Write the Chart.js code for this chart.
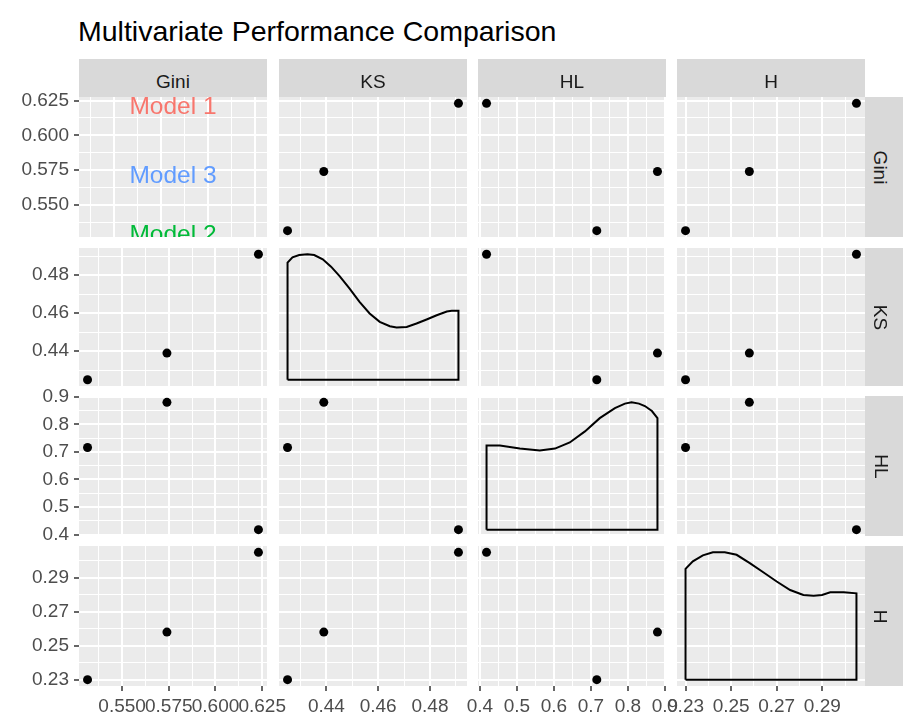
<!DOCTYPE html>
<html lang="en">
  <head>
    <meta charset="UTF-8" />
    <title>Multivariate Performance Comparison</title>
    <script src="https://cdn.jsdelivr.net/npm/chart.js"></script>
    <style>
      body {
        margin: 0;
        background: #fff;
        font-family: "Liberation Sans", Arial, sans-serif;
      }
      #page {
        position: relative;
        width: 904px;
        height: 725px;
        overflow: hidden;
      }
      #page canvas {
        position: absolute;
        left: 0;
        top: 0;
      }
      .title {
        position: absolute;
        left: 78px;
        top: 17px;
        font-size: 28.5px;
        line-height: 1;
        color: #000;
        white-space: nowrap;
      }
      .strip {
        position: absolute;
        background: #d9d9d9;
        color: #1a1a1a;
        font-size: 19px;
        line-height: 1;
        display: flex;
        align-items: center;
        justify-content: center;
      }
      .strip span {
        padding-top: 6px;
      }
      .strip.right span {
        transform: rotate(90deg);
      }
    </style>
  </head>
  <body>
    <div id="page">
      <div class="title">Multivariate Performance Comparison</div>
    </div>
    <script>
      const variables = ['Gini', 'KS', 'HL', 'H'];
      const models = ['Model 1', 'Model 2', 'Model 3'];
      const modelColors = ['#F8766D', '#00BA38', '#619CFF'];

      // metric values per model
      const giniValues = [0.623, 0.5315, 0.574];
      const ksValues = [0.491, 0.425, 0.439];
      const hlValues = [0.418, 0.716, 0.88];
      const hValues = [0.305, 0.23, 0.258];

      // axis breaks
      const giniTicks = [0.55, 0.575, 0.6, 0.625];
      const giniTickLabels = ['0.550', '0.575', '0.600', '0.625'];
      const ksTicks = [0.44, 0.46, 0.48];
      const ksTickLabels = ['0.44', '0.46', '0.48'];
      const hlTicks = [0.4, 0.5, 0.6, 0.7, 0.8, 0.9];
      const hlTickLabels = ['0.4', '0.5', '0.6', '0.7', '0.8', '0.9'];
      const hTicks = [0.23, 0.25, 0.27, 0.29];
      const hTickLabels = ['0.23', '0.25', '0.27', '0.29'];

      // diagonal densities (height relative to the peak)
      const ksDensityX = [0.425, 0.4269, 0.4295, 0.4327, 0.4353, 0.4386, 0.4418, 0.4451, 0.4489, 0.4528, 0.4567,
        0.4606, 0.4645, 0.4671, 0.471, 0.4748, 0.4787, 0.4826, 0.4865, 0.4884, 0.491];
      const ksDensityY = [0.933, 0.976, 0.994, 1.0, 0.994, 0.96, 0.901, 0.826, 0.728, 0.621, 0.528,
        0.461, 0.426, 0.416, 0.421, 0.448, 0.48, 0.514, 0.544, 0.549, 0.549];
      const hlDensityX = [0.418, 0.454, 0.508, 0.562, 0.603, 0.643, 0.684, 0.724, 0.765, 0.792, 0.81, 0.83,
        0.846, 0.865, 0.88];
      const hlDensityY = [0.661, 0.661, 0.637, 0.621, 0.637, 0.685, 0.772, 0.876, 0.955, 0.99, 1.0, 0.99,
        0.971, 0.932, 0.876];
      const hDensityX = [0.23, 0.2332, 0.2376, 0.242, 0.2472, 0.2524, 0.2582, 0.2641, 0.27, 0.2759, 0.2817,
        0.2862, 0.2899, 0.2935, 0.2994, 0.305];
      const hDensityY = [0.87, 0.929, 0.976, 1.0, 1.0, 0.981, 0.915, 0.844, 0.771, 0.704, 0.665,
        0.66, 0.665, 0.686, 0.686, 0.678];

      // top-left label panel: own 0..1 x scale
      const labelPanelTicks = [0.185, 0.435, 0.685, 0.935];
      const labelPanelX = 0.5;

      const series = [giniValues, ksValues, hlValues, hValues];
      const breaks = [giniTicks, ksTicks, hlTicks, hTicks];
      const breakLabels = [giniTickLabels, ksTickLabels, hlTickLabels, hTickLabels];
      const densities = [null, [ksDensityX, ksDensityY], [hlDensityX, hlDensityY], [hDensityX, hDensityY]];

      // panel geometry
      const W = 904, H = 725;
      const colLeft = [79, 279, 478, 677];
      const colRight = [267, 467, 666, 865];
      const rowTop = [97, 248, 396, 546];
      const rowBottom = [237, 386, 536, 686];
      const stripTop = 59, stripSize = 38;
      const yAxisWidth = 79, xAxisHeight = 39;
      const FONT = '"Liberation Sans", Arial, sans-serif';

      function paddedRange(values) {
        const lo = Math.min(...values), hi = Math.max(...values);
        const pad = (hi - lo) * 0.05;
        return [lo - pad, hi + pad];
      }

      // major breaks plus the minor lines halfway between them
      function gridTicks(major, labels, range) {
        const half = (major[1] - major[0]) / 2;
        const out = [];
        major.forEach((m, i) => {
          out.push({ value: m - half, minor: true, text: '' });
          out.push({ value: m, minor: false, text: labels ? labels[i] : '' });
        });
        out.push({ value: major[major.length - 1] + half, minor: true, text: '' });
        return out.filter((t) => t.value >= range[0] - 1e-9 && t.value <= range[1] + 1e-9);
      }

      function axis(dir, range, tickList, showLabels) {
        return {
          type: 'linear',
          min: range[0],
          max: range[1],
          border: { display: false },
          grid: {
            color: '#ffffff',
            lineWidth: (ctx) => (ctx.tick && ctx.tick.minor ? 1 : 2),
            drawTicks: showLabels,
            tickLength: 5,
            tickWidth: 1.5,
            tickColor: (ctx) => (ctx.tick && ctx.tick.minor ? 'rgba(0,0,0,0)' : '#333333'),
          },
          ticks: {
            display: showLabels,
            autoSkip: false,
            minRotation: 0,
            maxRotation: 0,
            padding: dir === 'x' ? 4 : 5,
            color: '#4d4d4d',
            font: { family: FONT, size: 19 },
            callback: (v, i, t) => (t[i] && !t[i].minor ? t[i].text : ''),
          },
          afterBuildTicks: (scale) => {
            scale.ticks = tickList.map((t) => Object.assign({}, t));
          },
          afterFit: (scale) => {
            if (dir === 'x') scale.height = showLabels ? xAxisHeight : 0;
            else scale.width = showLabels ? yAxisWidth : 0;
          },
        };
      }

      const panelBackground = {
        id: 'panelBackground',
        beforeDraw(chart) {
          const { ctx, chartArea: a } = chart;
          ctx.save();
          ctx.fillStyle = '#ebebeb';
          ctx.fillRect(a.left, a.top, a.right - a.left, a.bottom - a.top);
          ctx.restore();
        },
      };

      const modelLabels = {
        id: 'modelLabels',
        afterDatasetsDraw(chart) {
          const { ctx, chartArea: a, scales } = chart;
          ctx.save();
          ctx.beginPath();
          ctx.rect(a.left, a.top, a.right - a.left, a.bottom - a.top);
          ctx.clip();
          ctx.font = '24.5px ' + FONT;
          ctx.textAlign = 'center';
          ctx.textBaseline = 'alphabetic';
          models.forEach((name, i) => {
            ctx.fillStyle = modelColors[i];
            const x = scales.x.getPixelForValue(labelPanelX);
            const y = scales.y.getPixelForValue(giniValues[i]);
            ctx.fillText(name, x, y + 11);
          });
          ctx.restore();
        },
      };

      const page = document.getElementById('page');

      for (let r = 0; r < 4; r++) {
        for (let c = 0; c < 4; c++) {
          const canvas = document.createElement('canvas');
          canvas.width = W;
          canvas.height = H;
          page.appendChild(canvas);

          const isLabelPanel = r === 0 && c === 0;
          const yRange = paddedRange(series[r]);
          const xRange = isLabelPanel ? [0, 1] : paddedRange(series[c]);
          const xTicks = isLabelPanel
            ? gridTicks(labelPanelTicks, null, xRange)
            : gridTicks(breaks[c], breakLabels[c], xRange);
          const yTicks = gridTicks(breaks[r], breakLabels[r], yRange);

          const datasets = [];
          const plugins = [panelBackground];
          if (isLabelPanel) {
            plugins.push(modelLabels);
          } else if (r === c) {
            const [dx, dy] = densities[r];
            const lo = Math.min(...series[r]), hi = Math.max(...series[r]);
            const outline = [{ x: dx[0], y: lo }]
              .concat(dx.map((x, i) => ({ x: x, y: lo + dy[i] * (hi - lo) })))
              .concat([{ x: dx[dx.length - 1], y: lo }, { x: dx[0], y: lo }]);
            datasets.push({
              data: outline,
              showLine: true,
              borderColor: '#000000',
              borderWidth: 2,
              pointRadius: 0,
              tension: 0,
              fill: false,
            });
          } else {
            datasets.push({
              data: series[c].map((x, i) => ({ x: x, y: series[r][i] })),
              pointRadius: 4.5,
              pointBackgroundColor: '#000000',
              pointBorderWidth: 0,
              showLine: false,
            });
          }

          new Chart(canvas.getContext('2d'), {
            type: 'scatter',
            data: { datasets: datasets },
            options: {
              responsive: false,
              animation: false,
              devicePixelRatio: 1,
              layout: {
                padding: {
                  left: c === 0 ? 0 : colLeft[c],
                  right: W - colRight[c],
                  top: rowTop[r],
                  bottom: r === 3 ? H - rowBottom[r] - xAxisHeight : H - rowBottom[r],
                },
              },
              scales: {
                x: axis('x', xRange, xTicks, r === 3),
                y: axis('y', yRange, yTicks, c === 0),
              },
              plugins: {
                legend: { display: false },
                tooltip: { enabled: false },
              },
            },
            plugins: plugins,
          });
        }
      }

      // facet strips
      variables.forEach((name, c) => {
        const s = document.createElement('div');
        s.className = 'strip';
        s.style.left = colLeft[c] + 'px';
        s.style.top = stripTop + 'px';
        s.style.width = colRight[c] - colLeft[c] + 'px';
        s.style.height = stripSize + 'px';
        s.innerHTML = '<span>' + name + '</span>';
        page.appendChild(s);
      });
      variables.forEach((name, r) => {
        const s = document.createElement('div');
        s.className = 'strip right';
        s.style.left = colRight[3] + 'px';
        s.style.top = rowTop[r] + 'px';
        s.style.width = stripSize + 'px';
        s.style.height = rowBottom[r] - rowTop[r] + 'px';
        s.innerHTML = '<span>' + name + '</span>';
        page.appendChild(s);
      });
    </script>
  </body>
</html>
